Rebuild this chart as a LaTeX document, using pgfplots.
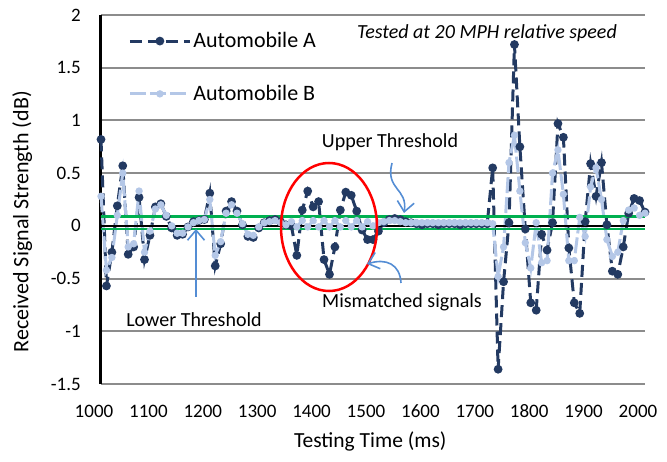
\documentclass[border=0pt]{standalone}
\usepackage{pgfplots}
\pgfplotsset{compat=1.18}
\usepackage{pgfplotstable}
\usepackage{fontspec}
\setmainfont{Carlito}
\usetikzlibrary{arrows.meta}
\definecolor{navyA}{RGB}{35,58,98}
\definecolor{lightB}{RGB}{180,199,231}
\definecolor{thrgreen}{RGB}{0,176,80}
\definecolor{gridgray}{RGB}{140,140,140}
\definecolor{arrowblue}{RGB}{84,141,212}

\pgfplotstableread{
t v
1000 0.82
1010 -0.57
1020 -0.25
1030 0.19
1040 0.57
1050 -0.27
1060 -0.20
1070 0.27
1080 -0.32
1090 -0.09
1100 0.18
1110 0.21
1120 0.09
1130 -0.02
1140 -0.09
1150 -0.08
1160 -0.01
1170 0.04
1180 0.05
1190 0.06
1200 0.31
1210 -0.38
1220 -0.17
1230 0.14
1240 0.23
1250 0.14
1260 0.01
1270 -0.10
1280 -0.11
1290 -0.02
1300 0.03
1310 0.05
1320 0.06
1330 0.04
1340 0.01
1350 0.00
1360 -0.28
1370 0.15
1380 0.33
1390 0.18
1400 0.23
1410 -0.32
1420 -0.46
1430 -0.20
1440 0.15
1450 0.32
1460 0.29
1470 0.14
1480 -0.04
1490 -0.13
1500 -0.13
1510 -0.05
1520 0.03
1530 0.06
1540 0.07
1550 0.06
1560 0.04
1570 0.03
1580 0.02
1590 0.01
1600 0.02
1610 0.02
1620 0.01
1630 0.02
1640 0.02
1650 0.02
1660 0.01
1670 0.02
1680 0.02
1690 0.02
1700 0.02
1710 0.02
1720 0.55
1730 -1.36
1740 -0.53
1750 0.03
1760 1.72
1770 0.75
1780 -0.03
1790 -0.73
1800 -0.80
1810 -0.08
1820 -0.23
1830 0.03
1840 0.97
1850 0.84
1860 -0.21
1870 -0.73
1880 -0.83
1890 0.04
1900 0.59
1910 0.28
1920 0.60
1930 0.01
1940 -0.43
1950 -0.46
1960 -0.20
1970 0.12
1980 0.26
1990 0.24
2000 0.13
}\dataA

\pgfplotstableread{
t v
1000 0.28
1010 -0.42
1020 -0.30
1030 0.10
1040 0.50
1050 -0.20
1060 -0.17
1070 0.33
1080 -0.25
1090 -0.05
1100 0.16
1110 0.20
1120 0.10
1130 0.00
1140 -0.07
1150 -0.07
1160 -0.01
1170 0.03
1180 0.05
1190 0.06
1200 0.25
1210 -0.28
1220 -0.15
1230 0.12
1240 0.20
1250 0.12
1260 0.02
1270 -0.08
1280 -0.09
1290 -0.01
1300 0.03
1310 0.04
1320 0.05
1330 0.03
1340 0.01
1350 0.04
1360 -0.01
1370 0.05
1380 -0.01
1390 0.05
1400 -0.01
1410 0.05
1420 -0.01
1430 0.05
1440 -0.01
1450 0.05
1460 -0.01
1470 0.05
1480 -0.01
1490 0.04
1500 0.00
1510 0.03
1520 0.04
1530 0.05
1540 0.05
1550 0.04
1560 0.03
1570 0.03
1580 0.03
1590 0.03
1600 0.03
1610 0.03
1620 0.03
1630 0.03
1640 0.03
1650 0.03
1660 0.03
1670 0.03
1680 0.03
1690 0.03
1700 0.03
1710 0.03
1720 0.02
1730 -0.48
1740 -0.20
1750 0.60
1760 0.86
1770 0.33
1780 -0.16
1790 -0.40
1800 0.03
1810 -0.35
1820 -0.33
1830 0.50
1840 0.72
1850 0.30
1860 -0.33
1870 -0.33
1880 0.08
1890 -0.10
1900 0.37
1910 0.55
1920 0.25
1930 -0.13
1940 -0.29
1950 -0.25
1960 0.05
1970 0.15
1980 0.17
1990 0.10
2000 0.12
}\dataB

\begin{document}
\begin{tikzpicture}[x=1pt,y=1pt]
\useasboundingbox (-101,-77) rectangle (566,384);
\begin{axis}[
  at={(0,0)}, anchor=south west,
  scale only axis, width=544pt, height=369pt,
  xmin=1000, xmax=2000, ymin=-1.5, ymax=2,
  clip=false,
  axis x line*=bottom, axis y line*=left,
  x axis line style={draw=gridgray, line width=2pt},
  y axis line style={draw=black, line width=3pt},
  xtick={1000,1100,...,2000},
  xticklabels={1000,1100,1200,1300,1400,1500,1600,1700,1800,1900,2000},
  ytick={-1.5,-1,-0.5,0,0.5,1,1.5,2},
  yticklabels={-1.5,-1,-0.5,0,0.5,1,1.5,2},
  major tick length=0pt,
  ymajorgrids, major grid style={draw=gridgray, line width=2pt},
  xticklabel style={font=\fontsize{19}{22}\selectfont, anchor=center, xshift=-7pt, yshift=-27pt},
  yticklabel style={font=\fontsize{19}{22}\selectfont, anchor=east, inner sep=0pt, xshift=-20pt},
  xlabel={Testing Time (ms)},
  ylabel={Received Signal Strength (dB)},
  xlabel style={font=\fontsize{21.5}{24}\selectfont, at={(axis description cs:0.495,-0.155)}, anchor=center},
  ylabel style={font=\fontsize{22}{25}\selectfont, at={(axis description cs:-0.145,0.44)}, anchor=center},
  legend style={at={(axis description cs:0.05,0.958)}, anchor=north west, draw=none, fill=none,
    font=\fontsize{22}{26}\selectfont, row sep=32pt, inner sep=0pt},
  legend cell align=left,
  legend image code/.code={\draw[mark repeat=2,mark phase=2,#1] plot coordinates {(0pt,0pt) (30pt,0pt) (60pt,0pt)};},
]
\addplot[navyA, line width=3pt, dash pattern=on 12pt off 6pt, mark=*, mark size=2.8pt, mark options={solid}] table[x=t,y=v] {\dataA};
\addlegendentry{Automobile A}
\addplot[lightB, line width=3pt, dash pattern=on 16pt off 4pt, mark=*, mark size=2.1pt, mark options={solid}] table[x=t,y=v] {\dataB};
\addlegendentry{Automobile B}
\addplot[black, line width=2.5pt, forget plot] coordinates {(1000,0) (2000,0)};
\addplot[thrgreen, line width=2.5pt, forget plot] coordinates {(1000,0.087) (2000,0.087)};
\addplot[thrgreen, line width=2.5pt, forget plot] coordinates {(1000,-0.03) (2000,-0.03)};
\end{axis}
\begin{scope}[shift={(-101pt,384pt)}, yscale=-1]
\node[font=\itshape\fontsize{20}{23}\selectfont] at (487,33) {Tested at 20 MPH relative speed};
\node[font=\fontsize{20}{24}\selectfont] at (390,142) {Upper Threshold};
\node[font=\fontsize{20}{24}\selectfont] at (194,320) {Lower Threshold};
\node[font=\fontsize{20}{24}\selectfont] at (402,302) {Mismatched signals};
\draw[red, line width=2.5pt] (329,227) ellipse [x radius=48, y radius=64];
\draw[arrowblue, line width=1.6pt, -{Straight Barb[length=10pt,width=17pt]}] (196,297) -- (196,229);
\draw[arrowblue, line width=1.6pt, -{Straight Barb[length=10pt,width=17pt]}] (392,163) .. controls (385,190) and (408,188) .. (404,213);
\draw[arrowblue, line width=1.6pt, -{Straight Barb[length=10pt,width=17pt]}] (401,283) .. controls (400,264) and (386,258) .. (367,264);
\end{scope}
\end{tikzpicture}
\end{document}
